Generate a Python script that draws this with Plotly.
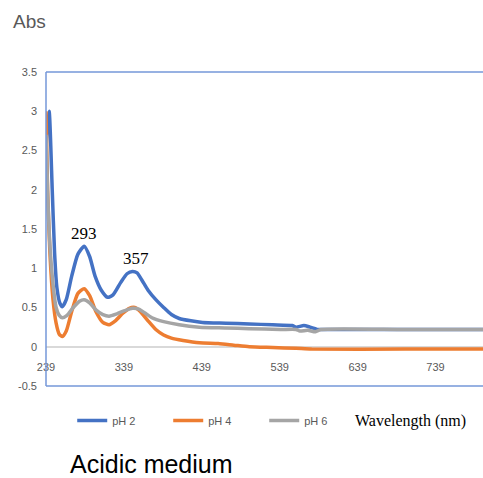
import plotly.graph_objects as go

# ---- data ----
wl_ph2 = [239, 240, 243, 247, 250, 253, 257, 260, 265, 272, 280, 288, 295, 302, 310, 318, 325,
          335, 343, 350, 356, 362, 370, 380, 390, 400, 410, 425, 440, 470, 500, 530, 555, 560,
          570, 578, 588, 600, 700, 800]
abs_ph2 = [2.4, 2.7, 3.0, 2.0, 1.2, 0.75, 0.55, 0.51, 0.6, 0.9, 1.18, 1.28, 1.15, 0.9, 0.72, 0.63, 0.66,
           0.82, 0.93, 0.96, 0.94, 0.85, 0.72, 0.6, 0.5, 0.41, 0.36, 0.33, 0.31, 0.3, 0.29, 0.28, 0.27, 0.25,
           0.27, 0.25, 0.22, 0.22, 0.22, 0.22]

wl_ph4 = [239, 241, 244, 248, 252, 256, 260, 265, 272, 280, 288, 295, 303, 312, 320, 328, 338, 346,
          353, 360, 370, 380, 390, 400, 415, 436, 460, 480, 500, 530, 560, 580, 700, 800]
abs_ph4 = [3.0, 2.0, 1.2, 0.6, 0.3, 0.16, 0.13, 0.2, 0.45, 0.68, 0.74, 0.65, 0.45, 0.31, 0.28, 0.33, 0.43, 0.49,
           0.5, 0.45, 0.33, 0.22, 0.15, 0.11, 0.08, 0.05, 0.04, 0.02, 0.0, -0.01, -0.02, -0.03, -0.03, -0.03]

wl_ph6 = [239, 241, 244, 248, 252, 256, 260, 266, 274, 282, 288, 295, 303, 312, 320, 330, 340, 350,
          358, 366, 375, 390, 410, 436, 470, 500, 540, 560, 565, 575, 585, 592, 700, 800]
abs_ph6 = [2.7, 2.0, 1.3, 0.8, 0.5, 0.4, 0.37, 0.4, 0.5, 0.58, 0.6, 0.56, 0.47, 0.41, 0.39, 0.42, 0.46, 0.49,
           0.48, 0.43, 0.37, 0.32, 0.28, 0.25, 0.24, 0.23, 0.22, 0.22, 0.2, 0.21, 0.19, 0.22, 0.22, 0.22]

series_names = ["pH 2", "pH 4", "pH 6"]
series_colors = ["#4472C4", "#ED7D31", "#A5A5A5"]

x_ticks = [239, 339, 439, 539, 639, 739]
y_ticks = [-0.5, 0, 0.5, 1, 1.5, 2, 2.5, 3, 3.5]
y_tick_text = ["-0.5", "0", "0.5", "1", "1.5", "2", "2.5", "3", "3.5"]

peak_x = [288, 355]
peak_y = [1.44, 1.12]
peak_text = ["293", "357"]

fig = go.Figure()
for wl, ab, name, col in zip([wl_ph2, wl_ph4, wl_ph6], [abs_ph2, abs_ph4, abs_ph6],
                             series_names, series_colors):
    fig.add_trace(go.Scatter(x=wl, y=ab, mode="lines", name=name,
                             line=dict(color=col, width=3.5, shape="spline", smoothing=0.6)))

for px, py, t in zip(peak_x, peak_y, peak_text):
    fig.add_annotation(x=px, y=py, text=t, showarrow=False, xref="x", yref="y",
                       font=dict(family="Liberation Serif", size=17, color="black"))

axis_blue = "#7497D8"
# plot frame (top, left, bottom)
fig.add_shape(type="line", xref="paper", yref="paper", x0=0, x1=1, y0=1, y1=1,
              line=dict(color=axis_blue, width=1.5))
fig.add_shape(type="line", xref="paper", yref="paper", x0=0, x1=0, y0=0, y1=1,
              line=dict(color=axis_blue, width=1.5))
fig.add_shape(type="line", xref="paper", yref="paper", x0=0, x1=1, y0=0, y1=0,
              line=dict(color=axis_blue, width=1.5))

fig.add_annotation(text="Abs", xref="paper", yref="paper", x=-0.08, y=1.16,
                   xanchor="left", yanchor="middle", showarrow=False,
                   font=dict(family="Liberation Sans Narrow, Liberation Sans", size=19, color="#595959"))
fig.add_annotation(text="Wavelength (nm)", xref="paper", yref="paper", x=0.835, y=-0.11,
                   xanchor="center", yanchor="middle", showarrow=False,
                   font=dict(family="Liberation Serif", size=16, color="black"))
fig.add_annotation(text="Acidic medium", xref="paper", yref="paper", x=0.05, y=-0.248,
                   xanchor="left", yanchor="middle", showarrow=False,
                   font=dict(family="Liberation Sans", size=25, color="black"))

fig.update_layout(
    width=483, height=478,
    margin=dict(l=46, r=0, t=72, b=92),
    paper_bgcolor="white", plot_bgcolor="white",
    showlegend=True,
    legend=dict(orientation="h", x=0.06, y=-0.11, xanchor="left", yanchor="middle",
                font=dict(family="Liberation Sans Narrow, Liberation Sans", size=11, color="#595959"),
                entrywidth=51, entrywidthmode="pixels", itemwidth=30,
                bgcolor="rgba(0,0,0,0)"),
    xaxis=dict(range=[239, 800], tickvals=x_ticks, ticktext=[str(v) for v in x_ticks],
               showgrid=False, zeroline=False, showline=False,
               anchor="free", position=0.125, ticks="", ticklabelstandoff=12,
               tickfont=dict(family="Liberation Sans Narrow, Liberation Sans", size=11, color="#595959")),
    yaxis=dict(range=[-0.5, 3.5], tickvals=y_ticks, ticktext=y_tick_text,
               showgrid=False, zeroline=True, zerolinecolor="#D9D9D9", zerolinewidth=1.5,
               showline=False, ticks="", ticklabelstandoff=8,
               tickfont=dict(family="Liberation Sans Narrow, Liberation Sans", size=11, color="#595959")),
)

fig.write_html("out.html")
